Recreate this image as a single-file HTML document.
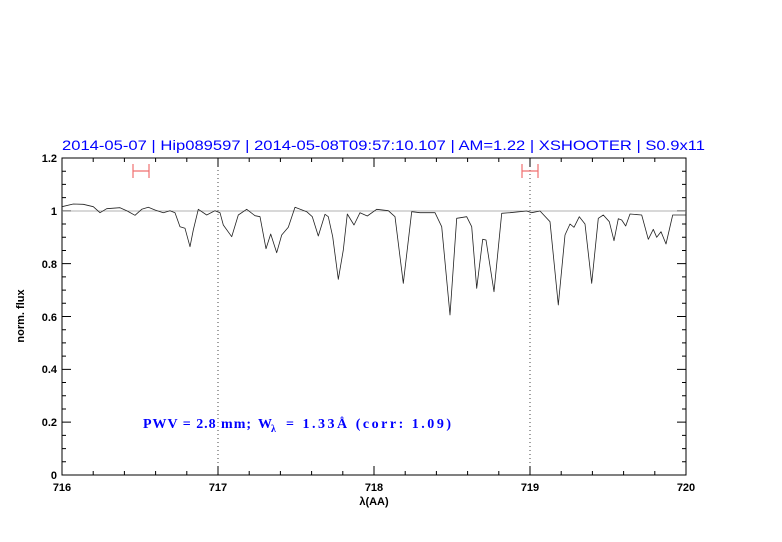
<!DOCTYPE html>
<html><head><style>body{margin:0;background:#fff}svg{display:block}</style></head><body>
<svg width="782" height="542" xmlns="http://www.w3.org/2000/svg">
<rect width="782" height="542" fill="#fff"/>
<text x="62" y="150" font-family="Liberation Sans, sans-serif" font-size="14" fill="#0000ff" textLength="643" lengthAdjust="spacingAndGlyphs">2014-05-07 | Hip089597 | 2014-05-08T09:57:10.107 | AM=1.22 | XSHOOTER | S0.9x11</text>
<g stroke="#000" stroke-width="1" fill="none">
<rect x="62" y="158" width="624" height="317"/>
<path d="M218 158V475M530 158V475" stroke="#444" stroke-dasharray="1,3" stroke-width="1"/>
<path d="
M62 475v-9M93.2 475v-4M124.4 475v-4M155.6 475v-4M186.8 475v-4M218 475v-9M249.2 475v-4M280.4 475v-4M311.6 475v-4M342.8 475v-4M374 475v-9M405.2 475v-4M436.4 475v-4M467.6 475v-4M498.8 475v-4M530 475v-9M561.2 475v-4M592.4 475v-4M623.6 475v-4M654.8 475v-4
M62 158v9M93.2 158v4M124.4 158v4M155.6 158v4M186.8 158v4M218 158v9M249.2 158v4M280.4 158v4M311.6 158v4M342.8 158v4M374 158v9M405.2 158v4M436.4 158v4M467.6 158v4M498.8 158v4M530 158v9M561.2 158v4M592.4 158v4M623.6 158v4M654.8 158v4"/>
</g>
<g stroke="#000" stroke-width="1" id="yt"></g>
<path d="M62 211H686" stroke="#999" stroke-width="0.8"/>
<g stroke="#f07070" stroke-width="1.2" fill="none"><path d="M133 164v14M149 164v14M133 171H149M522 164v14M538 164v14M522 171H538"/></g>
<polyline fill="none" stroke="#222" stroke-width="0.8" stroke-linejoin="round" points="62,206.7 73.3,204 83.3,204.3 93.3,206.7 100,212.7 106.7,208.7 120,207.7 126.7,210.7 135,215.3 141.7,209.3 148.3,207.3 155,210 163.3,212.7 170,210.7 175,212.7 180,226.7 185,228.3 190,246.7 193.3,230 198.3,209.3 206.7,215 215,210.7 220,212.7 223.3,225 231.7,236.7 238.3,215 246.7,209.3 255,215.7 260,216.7 266,248.7 270.7,234 276.7,252.7 281.7,235 288.3,227.3 295,207.3 306.7,211.7 312.3,216.7 318.3,236 325,214.3 328.3,216.7 332.7,236.7 338.3,279.3 343.3,250 347.3,214 354,225 360,212.7 367.3,216 376.7,209.3 388.3,210.7 395,216.7 403.3,283.3 411.7,211.7 420,212.7 435,212.7 441.7,226.7 450,315 456.7,218.3 466.7,216.7 471.7,226.7 476.7,288.3 482.7,239.3 486,240 494,291.7 501.7,213.3 510,212.7 526.7,211 531.7,212.7 540,211 550,221.7 558.3,305 565,235 570,224 574,227.3 579.3,216.7 585,224 591.7,283.3 598.3,218.3 603.3,215 609.3,221.7 614,240.7 618.3,218.7 621.7,220 625.7,226 630,214 641.7,215 648.3,239.3 653.3,229.3 656.7,237.3 661,231.7 666,244 672.7,215 686,215"/>
<g font-family="Liberation Sans, sans-serif" font-size="11" font-weight="bold" fill="#000" text-anchor="middle">
<text x="62" y="491">716</text><text x="218" y="491">717</text><text x="374" y="491">718</text><text x="530" y="491">719</text><text x="686" y="491">720</text>
<text x="374" y="505">λ(AA)</text>
</g>
<g font-family="Liberation Sans, sans-serif" font-size="11" font-weight="bold" fill="#000" text-anchor="end">
<text x="57" y="479">0</text><text x="57" y="426">0.2</text><text x="57" y="373">0.4</text><text x="57" y="321">0.6</text><text x="57" y="268">0.8</text><text x="57" y="215">1</text><text x="57" y="162">1.2</text>
</g>
<text transform="translate(24,316) rotate(-90)" font-family="Liberation Sans, sans-serif" font-size="11" font-weight="bold" text-anchor="middle">norm. flux</text>
<g font-family="Liberation Serif, serif" font-size="14" font-weight="bold" fill="#0000ff">
<text x="143" y="428" textLength="108" lengthAdjust="spacing">PWV = 2.8 mm;</text>
<text x="258" y="428">W</text><text x="271" y="432" font-size="10">λ</text>
<text x="286" y="428" textLength="165" lengthAdjust="spacing">=  1.33Å  (corr: 1.09)</text>
</g>
<script>
var g=document.getElementById('yt'),d='';
for(var i=0;i<=24;i++){var y=475-i*13.2083;var L=(i%4==0)?9:4;d+='M62 '+y+'h'+L+'M686 '+y+'h-'+L;}
var p=document.createElementNS('http://www.w3.org/2000/svg','path');p.setAttribute('d',d);g.appendChild(p);
</script>
</svg>
</body></html>
